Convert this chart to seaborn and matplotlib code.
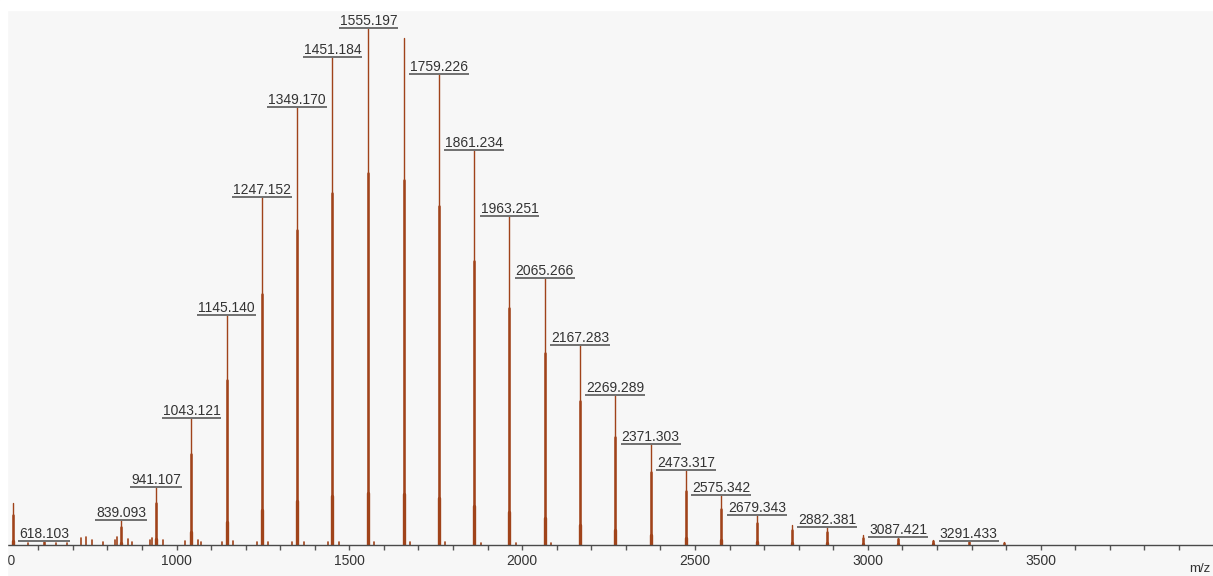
import matplotlib
matplotlib.use("Agg")
import matplotlib.pyplot as plt
from matplotlib.patches import Rectangle
import pandas as pd
import seaborn as sns

# ---- spectrum peaks: m/z and relative intensity (%) ----
labelled_mz = [618.103, 839.093, 941.107, 1043.121, 1145.140, 1247.152,
               1349.170, 1451.184, 1555.197, 1759.226, 1861.234, 1963.251,
               2065.266, 2167.283, 2269.289, 2371.303, 2473.317, 2575.342,
               2679.343, 2882.381, 3087.421, 3291.433]
labelled_int = [0.7, 4.8, 11.2, 24.5, 44.4, 67.4,
                84.7, 94.5, 100.0, 91.2, 76.4, 63.7,
                51.7, 38.7, 29.0, 19.5, 14.5, 9.7,
                5.8, 3.5, 1.6, 0.8]

unlabelled_mz = [528.0, 1657.2, 2780.4, 2984.4, 3188.4, 3392.4]
unlabelled_int = [8.1, 98.1, 3.9, 1.9, 1.0, 0.5]

minor_mz = [570, 652, 684, 723, 738, 755, 788, 822, 829, 859, 870, 923,
            928, 962, 1025, 1063, 1071, 1131, 1164, 1233, 1266, 1335,
            1368, 1437, 1470, 1572, 1676, 1778, 1880, 1982, 2084]
minor_int = [0.4, 0.4, 0.4, 1.3, 1.6, 1.0, 0.6, 1.0, 1.5, 1.2, 0.6, 1.0,
             1.4, 1.0, 0.8, 1.0, 0.6, 0.6, 0.7, 0.5, 0.6, 0.5,
             0.5, 0.5, 0.5, 0.5, 0.5, 0.5, 0.4, 0.4, 0.4]

major_ticks = [500, 1000, 1500, 2000, 2500, 3000, 3500]
minor_ticks = list(range(600, 4000, 100))

PEAK = "#a0431a"
TEXT = "#333333"
RULE = "#707070"

sns.set_theme(style="white")
plt.rcParams["font.family"] = ["Liberation Sans", "DejaVu Sans"]

W, H = 1213, 576
fig = plt.figure(figsize=(W / 100, H / 100), dpi=100, facecolor="#f7f7f7")
ax = fig.add_axes([0, 31 / H, 1, (545 - 10) / H])
ax.set_facecolor("none")


def stems(mz, inten, frac):
    rows = []
    for i, (m, v) in enumerate(zip(mz, inten)):
        rows.append((i, m, 0.0))
        rows.append((i, m, v * frac))
    return pd.DataFrame(rows, columns=["peak", "mz", "intensity"])


main_mz = labelled_mz + unlabelled_mz
main_int = labelled_int + unlabelled_int

# sharp peak tips with broader bodies
for frac, lw in [(1.0, 1.0), (0.72, 1.8), (0.1, 2.4)]:
    sns.lineplot(data=stems(main_mz, main_int, frac), x="mz", y="intensity",
                 units="peak", estimator=None, sort=False, color=PEAK,
                 lw=lw, legend=False, ax=ax)

# small background peaks
sns.lineplot(data=stems(minor_mz, minor_int, 1.0), x="mz", y="intensity",
             units="peak", estimator=None, sort=False, color=PEAK,
             lw=1.2, legend=False, ax=ax)

ax.set_xlim(489.4, 3998.3)
ax.set_ylim(0, 103.5)
ax.set_xlabel("")
ax.set_ylabel("")
ax.set_yticks([])
ax.set_xticks(major_ticks)
ax.set_xticklabels([str(t) for t in major_ticks])
ax.set_xticks(minor_ticks, minor=True)
ax.tick_params(axis="x", which="both", direction="out", length=3.6,
               width=1, color="#555555", labelsize=10, labelcolor=TEXT,
               pad=3, bottom=True)
for side in ["left", "right", "top"]:
    ax.spines[side].set_visible(False)
ax.spines["bottom"].set_color("#4a4a4a")
ax.spines["bottom"].set_linewidth(1.0)

# peak annotations with underline rules
texts = []
for m, v in zip(labelled_mz, labelled_int):
    t = ax.annotate(f"{m:.3f}", xy=(m, v), xytext=(0, 3),
                    textcoords="offset pixels", ha="center", va="baseline",
                    fontsize=10, color=TEXT, annotation_clip=False)
    texts.append((t, v))

fig.canvas.draw()
renderer = fig.canvas.get_renderer()
inv = ax.transData.inverted()
for t, v in texts:
    bb = t.get_window_extent(renderer)
    x0 = inv.transform((bb.x0 - 1, 0))[0]
    x1 = inv.transform((bb.x1 + 1, 0))[0]
    ax.plot([x0, x1], [v, v], color=RULE, lw=1.4, solid_capstyle="butt",
            clip_on=False, zorder=3)

fig.text(1200 / W, 1 - 569 / H, "m/z", ha="center", va="center",
         fontsize=9.5, color=TEXT)

# white frame strips along top and left edge
fig.patches.append(Rectangle((0, 1 - 10 / H), 1, 10 / H,
                             transform=fig.transFigure, color="white",
                             zorder=10))
fig.patches.append(Rectangle((0, 0), 7 / W, 1, transform=fig.transFigure,
                             color="white", zorder=10))

fig.savefig("out.png", dpi=100, facecolor=fig.get_facecolor())
